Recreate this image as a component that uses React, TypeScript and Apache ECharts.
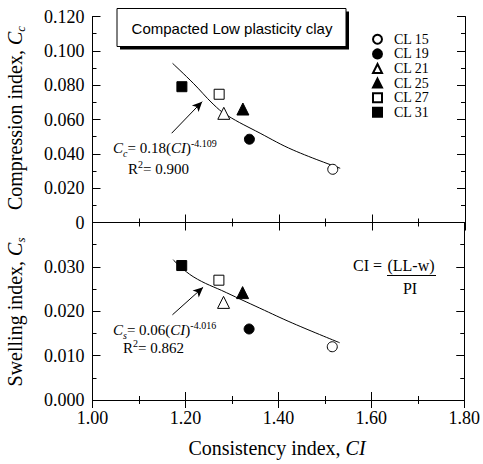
import React, { useEffect, useRef } from 'react';
import * as echarts from 'echarts';

const SERIES_NAMES = ['CL 15', 'CL 19', 'CL 21', 'CL 25', 'CL 27', 'CL 31'];
const SYMBOLS = ['circle', 'circle', 'triangle', 'triangle', 'rect', 'rect'];
const FILLED = [false, true, false, true, false, true];
const SYMBOL_SIZES = [10, 10, 12, 12, 10, 10];

const CI_VALUES = [1.516, 1.337, 1.282, 1.323, 1.272, 1.192];
const CC_VALUES = [0.031, 0.0485, 0.0636, 0.0661, 0.0747, 0.0791];
const CS_VALUES = [0.012, 0.016, 0.022, 0.0242, 0.027, 0.0303];

const CC_FIT_CI = [1.172, 1.2165, 1.259, 1.288, 1.36, 1.431, 1.532];
const CC_FIT_VALUES = [0.0927, 0.0811, 0.069, 0.0626, 0.052, 0.0422, 0.0316];
const CS_FIT_CI = [1.1735, 1.2165, 1.288, 1.36, 1.431, 1.532];
const CS_FIT_VALUES = [0.0316, 0.0278, 0.0242, 0.0207, 0.0173, 0.0129];

const CC_ARROW = [[1.17, 0.052], [1.2355, 0.0704]];
const CS_ARROW = [[1.172, 0.0192], [1.238, 0.0254]];

const X_MIN = 1.0, X_MAX = 1.8, X_STEP = 0.2;
const CC_MIN = 0, CC_MAX = 0.12, CC_STEP = 0.02;
const CS_MIN = 0, CS_MAX = 0.04, CS_STEP = 0.01;

const SERIF = 'Liberation Serif';
const SANS = 'Liberation Sans';

export default function App() {
  const ref = useRef<HTMLDivElement>(null);
  useEffect(() => {
    if (!ref.current) return;
    const chart = echarts.init(ref.current, null, { renderer: 'svg' });
    const axisLine = { show: true, lineStyle: { color: '#000', width: 1 } };
    const xBase = (gridIndex: number, position: string, labels: boolean) => ({
      type: 'value', gridIndex, position, min: X_MIN, max: X_MAX, interval: X_STEP,
      axisLine, splitLine: { show: false },
      axisTick: { show: true, inside: true, length: 8, lineStyle: { color: '#000' } },
      minorTick: { show: true, splitNumber: 2, length: 4, lineStyle: { color: '#000' } },
      axisLabel: labels ? { show: true, formatter: (v: number) => v.toFixed(2), fontFamily: SERIF, fontSize: 18, color: '#000', margin: 9 } : { show: false },
    });
    const yBase = (gridIndex: number, position: string, min: number, max: number, step: number, labels: boolean, fmt?: (v: number) => string, showMax = true) => ({
      type: 'value', gridIndex, position, min, max, interval: step,
      axisLine, splitLine: { show: false },
      axisTick: { show: true, inside: true, length: 8, lineStyle: { color: '#000' } },
      minorTick: { show: true, splitNumber: 2, length: 4, lineStyle: { color: '#000' } },
      axisLabel: labels ? { show: true, formatter: fmt, fontFamily: SERIF, fontSize: 18, color: '#000', margin: 8, showMaxLabel: showMax } : { show: false },
    });

    const scatter = (i: number, yIdx: number, xIdx: number, vals: number[]) => ({
      type: 'scatter', name: SERIES_NAMES[i], xAxisIndex: xIdx, yAxisIndex: yIdx,
      symbol: SYMBOLS[i], symbolSize: SYMBOL_SIZES[i],
      itemStyle: FILLED[i] ? { color: '#000', borderColor: '#000', borderWidth: 1, opacity: 1 } : { color: '#fff', borderColor: '#000', borderWidth: 1, opacity: 1 },
      data: [[CI_VALUES[i], vals[i]]], z: 5,
    });

    const arrowMark = (pts: number[][]) => ({
      silent: true, symbol: ['none', 'arrow'], symbolSize: [7, 10],
      lineStyle: { color: '#000', width: 1, type: 'solid' }, label: { show: false },
      data: [[{ coord: pts[0] }, { coord: pts[1] }]],
    });

    const series: any[] = [];
    SERIES_NAMES.forEach((_, i) => series.push(scatter(i, 0, 0, CC_VALUES)));
    SERIES_NAMES.forEach((_, i) => series.push(scatter(i, 2, 3, CS_VALUES)));
    series.push({
      type: 'line', name: 'fitCc', xAxisIndex: 0, yAxisIndex: 0, smooth: 0.4, showSymbol: false, symbol: 'none',
      lineStyle: { color: '#000', width: 1 }, data: CC_FIT_CI.map((c, i) => [c, CC_FIT_VALUES[i]]),
      markLine: arrowMark(CC_ARROW), z: 3,
    });
    series.push({
      type: 'line', name: 'fitCs', xAxisIndex: 3, yAxisIndex: 2, smooth: 0.4, showSymbol: false, symbol: 'none',
      lineStyle: { color: '#000', width: 1 }, data: CS_FIT_CI.map((c, i) => [c, CS_FIT_VALUES[i]]),
      markLine: arrowMark(CS_ARROW), z: 3,
    });

    const rich = {
      n: { fontFamily: SERIF, fontSize: 15, color: '#000' },
      i: { fontFamily: SERIF, fontSize: 15, fontStyle: 'italic', color: '#000' },
      sub: { fontFamily: SERIF, fontSize: 10, fontStyle: 'italic', color: '#000', verticalAlign: 'bottom' },
      sup: { fontFamily: SERIF, fontSize: 10, color: '#000', verticalAlign: 'top' },
    };
    const titleRich = {
      n: { fontFamily: SERIF, fontSize: 20, color: '#000' },
      i: { fontFamily: SERIF, fontSize: 20, fontStyle: 'italic', color: '#000' },
      sub: { fontFamily: SERIF, fontSize: 13, fontStyle: 'italic', color: '#000', verticalAlign: 'bottom' },
    };

    const txt = (x: number, y: number, text: string, r: any, align = 'left', lineHeight = 20, rotation = 0) => ({
      type: 'text', x, y, rotation, z: 10,
      style: { text, rich: r, align, verticalAlign: 'middle', lineHeight },
    });

    chart.setOption({
      animation: false,
      grid: [
        { left: 92.5, top: 16.5, width: 372.5, height: 206 },
        { left: 92.5, top: 222.5, width: 372.5, height: 177.5 },
      ],
      xAxis: [
        xBase(0, 'bottom', false),
        xBase(0, 'top', false),
        xBase(1, 'top', false),
        xBase(1, 'bottom', true),
      ],
      yAxis: [
        yBase(0, 'left', CC_MIN, CC_MAX, CC_STEP, true, (v: number) => (v === 0 ? '0' : v.toFixed(3))),
        yBase(0, 'right', CC_MIN, CC_MAX, CC_STEP, false),
        yBase(1, 'left', CS_MIN, CS_MAX, CS_STEP, true, (v: number) => v.toFixed(3), false),
        yBase(1, 'right', CS_MIN, CS_MAX, CS_STEP, false),
      ],
      legend: {
        data: SERIES_NAMES, orient: 'vertical', left: 367, top: 27,
        itemWidth: 9, itemHeight: 9, itemGap: 0, selectedMode: false,
        textStyle: { fontFamily: SERIF, fontSize: 14, color: '#000', lineHeight: 14.6, padding: [0, 0, 0, 7] },
      },
      graphic: [
        { type: 'rect', shape: { x: 120, y: 11.5, width: 229, height: 38 }, style: { fill: '#000' }, z: 8 },
        { type: 'rect', shape: { x: 117, y: 8.5, width: 229, height: 38 }, style: { fill: '#fff', stroke: '#000', lineWidth: 1 }, z: 9 },
        { type: 'text', x: 232, y: 28, z: 10, style: { text: 'Compacted Low plasticity clay', font: `15px ${SANS}`, fill: '#000', align: 'center', verticalAlign: 'middle' } },
        txt(113, 148, '{i|C}{sub|c}{n|= 0.18(}{i|CI}{n|)}{sup|-4.109}', rich),
        txt(128, 169, '{n|R}{sup|2}{n|= 0.900}', rich),
        txt(113, 330, '{i|C}{sub|s}{n|= 0.06(}{i|CI}{n|)}{sup|-4.016}', rich),
        txt(123, 348, '{n|R}{sup|2}{n|= 0.862}', rich),
        { type: 'text', x: 353, y: 265, z: 10, style: { text: 'CI =', font: `16px ${SERIF}`, fill: '#000', align: 'left', verticalAlign: 'middle' } },
        { type: 'text', x: 411, y: 265, z: 10, style: { text: '(LL-w)', font: `16px ${SERIF}`, fill: '#000', align: 'center', verticalAlign: 'middle' } },
        { type: 'line', z: 10, shape: { x1: 387, y1: 275.5, x2: 436, y2: 275.5 }, style: { stroke: '#000', lineWidth: 1 } },
        { type: 'text', x: 410, y: 288, z: 10, style: { text: 'PI', font: `16px ${SERIF}`, fill: '#000', align: 'center', verticalAlign: 'middle' } },
        txt(277, 448, '{n|Consistency index, }{i|CI}', titleRich, 'center', 24),
        txt(15, 118, '{n|Compression index, }{i|C}{sub|c}', titleRich, 'center', 24, Math.PI / 2),
        txt(15, 312, '{n|Swelling index, }{i|C}{sub|s}', titleRich, 'center', 24, Math.PI / 2),
      ],
      series,
    });
    return () => chart.dispose();
  }, []);
  return <div ref={ref} style={{ position: 'fixed', left: 0, top: 0, width: 483, height: 464, background: '#fff' }} />;
}
